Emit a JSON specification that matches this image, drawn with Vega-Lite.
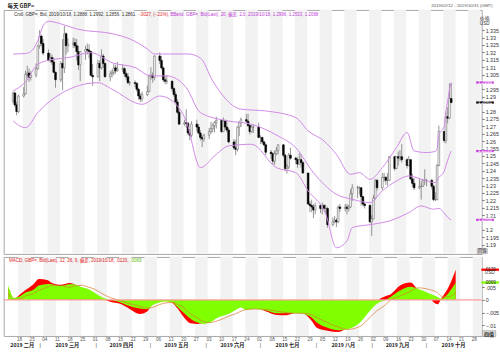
{
"$schema":"https://vega.github.io/schema/vega-lite/v6.json",
"autosize":{"type":"pad"},
"padding":{"left":1.7,"top":1.95,"right":2,"bottom":5},
"background":"white",
"spacing":0,
"config":{
 "view":{"stroke":"#a8a8a8","strokeWidth":1},
 "axis":{"labelFont":"Liberation Sans","labelFontSize":5.2,"labelColor":"#444","tickColor":"#777","domain":false,"grid":false,"labelFlush":false,"labelOverlap":false,"labelBound":false},
 "text":{"font":"Liberation Sans, Noto Sans CJK SC"}
},
"datasets":{
 "wk":[{"s":"2019-02-17T12:00:00Z","e":"2019-02-24T12:00:00Z"},{"s":"2019-03-03T12:00:00Z","e":"2019-03-10T12:00:00Z"},{"s":"2019-03-17T12:00:00Z","e":"2019-03-24T12:00:00Z"},{"s":"2019-03-31T12:00:00Z","e":"2019-04-07T12:00:00Z"},{"s":"2019-04-14T12:00:00Z","e":"2019-04-21T12:00:00Z"},{"s":"2019-04-28T12:00:00Z","e":"2019-05-05T12:00:00Z"},{"s":"2019-05-12T12:00:00Z","e":"2019-05-19T12:00:00Z"},{"s":"2019-05-26T12:00:00Z","e":"2019-06-02T12:00:00Z"},{"s":"2019-06-09T12:00:00Z","e":"2019-06-16T12:00:00Z"},{"s":"2019-06-23T12:00:00Z","e":"2019-06-30T12:00:00Z"},{"s":"2019-07-07T12:00:00Z","e":"2019-07-14T12:00:00Z"},{"s":"2019-07-21T12:00:00Z","e":"2019-07-28T12:00:00Z"},{"s":"2019-08-04T12:00:00Z","e":"2019-08-11T12:00:00Z"},{"s":"2019-08-18T12:00:00Z","e":"2019-08-25T12:00:00Z"},{"s":"2019-09-01T12:00:00Z","e":"2019-09-08T12:00:00Z"},{"s":"2019-09-15T12:00:00Z","e":"2019-09-22T12:00:00Z"},{"s":"2019-09-29T12:00:00Z","e":"2019-10-06T12:00:00Z"},{"s":"2019-10-13T12:00:00Z","e":"2019-10-20T12:00:00Z"},{"s":"2019-10-27T12:00:00Z","e":"2019-11-03T12:00:00Z"}],
 "c":[
{"d":"2019-02-12","o":1.2870,"h":1.2935,"l":1.2855,"c":1.2925},
{"d":"2019-02-13","o":1.2925,"h":1.2935,"l":1.2830,"c":1.2845},
{"d":"2019-02-14","o":1.2845,"h":1.2865,"l":1.2775,"c":1.2800},
{"d":"2019-02-15","o":1.2800,"h":1.2915,"l":1.2790,"c":1.2905},
{"d":"2019-02-18","o":1.2905,"h":1.2965,"l":1.2895,"c":1.2920},
{"d":"2019-02-19","o":1.2920,"h":1.3075,"l":1.2915,"c":1.3050},
{"d":"2019-02-20","o":1.3050,"h":1.3110,"l":1.3030,"c":1.3060},
{"d":"2019-02-21","o":1.3060,"h":1.3090,"l":1.3000,"c":1.3030},
{"d":"2019-02-22","o":1.3030,"h":1.3075,"l":1.3010,"c":1.3045},
{"d":"2019-02-25","o":1.3045,"h":1.3125,"l":1.3030,"c":1.3090},
{"d":"2019-02-26","o":1.3090,"h":1.3250,"l":1.3080,"c":1.3245},
{"d":"2019-02-27","o":1.3245,"h":1.3350,"l":1.3225,"c":1.3310},
{"d":"2019-02-28","o":1.3310,"h":1.3320,"l":1.3240,"c":1.3260},
{"d":"2019-03-01","o":1.3260,"h":1.3290,"l":1.3180,"c":1.3195},
{"d":"2019-03-04","o":1.3195,"h":1.3220,"l":1.3140,"c":1.3145},
{"d":"2019-03-05","o":1.3145,"h":1.3195,"l":1.3130,"c":1.3165},
{"d":"2019-03-06","o":1.3165,"h":1.3185,"l":1.3115,"c":1.3135},
{"d":"2019-03-07","o":1.3135,"h":1.3165,"l":1.3060,"c":1.3065},
{"d":"2019-03-08","o":1.3065,"h":1.3070,"l":1.2960,"c":1.3015},
{"d":"2019-03-11","o":1.3015,"h":1.3140,"l":1.3000,"c":1.3125},
{"d":"2019-03-12","o":1.3125,"h":1.3290,"l":1.2945,"c":1.3095},
{"d":"2019-03-13","o":1.3095,"h":1.3380,"l":1.3060,"c":1.3325},
{"d":"2019-03-14","o":1.3325,"h":1.3335,"l":1.3185,"c":1.3245},
{"d":"2019-03-15","o":1.3245,"h":1.3295,"l":1.3200,"c":1.3255},
{"d":"2019-03-18","o":1.3255,"h":1.3300,"l":1.3230,"c":1.3265},
{"d":"2019-03-19","o":1.3265,"h":1.3295,"l":1.3230,"c":1.3245},
{"d":"2019-03-20","o":1.3245,"h":1.3290,"l":1.3145,"c":1.3205},
{"d":"2019-03-21","o":1.3205,"h":1.3245,"l":1.3080,"c":1.3115},
{"d":"2019-03-22","o":1.3115,"h":1.3210,"l":1.3005,"c":1.3205},
{"d":"2019-03-25","o":1.3205,"h":1.3245,"l":1.3150,"c":1.3220},
{"d":"2019-03-26","o":1.3220,"h":1.3260,"l":1.3185,"c":1.3215},
{"d":"2019-03-27","o":1.3215,"h":1.3255,"l":1.3160,"c":1.3205},
{"d":"2019-03-28","o":1.3205,"h":1.3210,"l":1.3040,"c":1.3045},
{"d":"2019-03-29","o":1.3045,"h":1.3120,"l":1.2975,"c":1.3035},
{"d":"2019-04-01","o":1.3035,"h":1.3150,"l":1.3030,"c":1.3125},
{"d":"2019-04-02","o":1.3125,"h":1.3145,"l":1.3005,"c":1.3095},
{"d":"2019-04-03","o":1.3095,"h":1.3220,"l":1.3085,"c":1.3175},
{"d":"2019-04-04","o":1.3175,"h":1.3190,"l":1.3095,"c":1.3125},
{"d":"2019-04-05","o":1.3125,"h":1.3130,"l":1.3030,"c":1.3035},
{"d":"2019-04-08","o":1.3035,"h":1.3075,"l":1.3005,"c":1.3055},
{"d":"2019-04-09","o":1.3055,"h":1.3085,"l":1.3030,"c":1.3065},
{"d":"2019-04-10","o":1.3065,"h":1.3125,"l":1.3045,"c":1.3095},
{"d":"2019-04-11","o":1.3095,"h":1.3115,"l":1.3055,"c":1.3075},
{"d":"2019-04-12","o":1.3075,"h":1.3135,"l":1.3070,"c":1.3085},
{"d":"2019-04-15","o":1.3085,"h":1.3120,"l":1.3065,"c":1.3090},
{"d":"2019-04-16","o":1.3090,"h":1.3100,"l":1.3035,"c":1.3055},
{"d":"2019-04-17","o":1.3055,"h":1.3070,"l":1.3015,"c":1.3035},
{"d":"2019-04-18","o":1.3035,"h":1.3060,"l":1.2985,"c":1.2995},
{"d":"2019-04-19","o":1.2995,"h":1.3005,"l":1.2975,"c":1.2995},
{"d":"2019-04-22","o":1.2995,"h":1.3010,"l":1.2965,"c":1.2990},
{"d":"2019-04-23","o":1.2990,"h":1.3000,"l":1.2935,"c":1.2950},
{"d":"2019-04-24","o":1.2950,"h":1.2960,"l":1.2880,"c":1.2905},
{"d":"2019-04-25","o":1.2905,"h":1.2925,"l":1.2865,"c":1.2885},
{"d":"2019-04-26","o":1.2885,"h":1.2935,"l":1.2865,"c":1.2915},
{"d":"2019-04-29","o":1.2915,"h":1.2975,"l":1.2905,"c":1.2935},
{"d":"2019-04-30","o":1.2935,"h":1.3050,"l":1.2930,"c":1.3040},
{"d":"2019-05-01","o":1.3040,"h":1.3100,"l":1.3015,"c":1.3045},
{"d":"2019-05-02","o":1.3045,"h":1.3065,"l":1.2995,"c":1.3030},
{"d":"2019-05-03","o":1.3030,"h":1.3180,"l":1.3010,"c":1.3175},
{"d":"2019-05-06","o":1.3175,"h":1.3200,"l":1.3120,"c":1.3145},
{"d":"2019-05-07","o":1.3145,"h":1.3175,"l":1.3085,"c":1.3095},
{"d":"2019-05-08","o":1.3095,"h":1.3105,"l":1.3000,"c":1.3015},
{"d":"2019-05-09","o":1.3015,"h":1.3045,"l":1.2985,"c":1.3005},
{"d":"2019-05-10","o":1.3005,"h":1.3045,"l":1.2985,"c":1.3005},
{"d":"2019-05-13","o":1.3005,"h":1.3010,"l":1.2935,"c":1.2955},
{"d":"2019-05-14","o":1.2955,"h":1.2965,"l":1.2900,"c":1.2915},
{"d":"2019-05-15","o":1.2915,"h":1.2935,"l":1.2855,"c":1.2865},
{"d":"2019-05-16","o":1.2865,"h":1.2885,"l":1.2785,"c":1.2795},
{"d":"2019-05-17","o":1.2795,"h":1.2815,"l":1.2710,"c":1.2715},
{"d":"2019-05-20","o":1.2715,"h":1.2745,"l":1.2705,"c":1.2725},
{"d":"2019-05-21","o":1.2725,"h":1.2815,"l":1.2690,"c":1.2720},
{"d":"2019-05-22","o":1.2720,"h":1.2730,"l":1.2640,"c":1.2655},
{"d":"2019-05-23","o":1.2655,"h":1.2680,"l":1.2605,"c":1.2640},
{"d":"2019-05-24","o":1.2640,"h":1.2735,"l":1.2625,"c":1.2715},
{"d":"2019-05-27","o":1.2715,"h":1.2745,"l":1.2665,"c":1.2695},
{"d":"2019-05-28","o":1.2695,"h":1.2715,"l":1.2645,"c":1.2655},
{"d":"2019-05-29","o":1.2655,"h":1.2675,"l":1.2605,"c":1.2625},
{"d":"2019-05-30","o":1.2625,"h":1.2640,"l":1.2560,"c":1.2615},
{"d":"2019-05-31","o":1.2615,"h":1.2650,"l":1.2595,"c":1.2640},
{"d":"2019-06-03","o":1.2640,"h":1.2690,"l":1.2615,"c":1.2665},
{"d":"2019-06-04","o":1.2665,"h":1.2730,"l":1.2650,"c":1.2685},
{"d":"2019-06-05","o":1.2685,"h":1.2720,"l":1.2660,"c":1.2705},
{"d":"2019-06-06","o":1.2705,"h":1.2735,"l":1.2660,"c":1.2725},
{"d":"2019-06-07","o":1.2725,"h":1.2765,"l":1.2685,"c":1.2740},
{"d":"2019-06-10","o":1.2740,"h":1.2745,"l":1.2655,"c":1.2665},
{"d":"2019-06-11","o":1.2665,"h":1.2760,"l":1.2660,"c":1.2735},
{"d":"2019-06-12","o":1.2735,"h":1.2745,"l":1.2675,"c":1.2695},
{"d":"2019-06-13","o":1.2695,"h":1.2740,"l":1.2660,"c":1.2675},
{"d":"2019-06-14","o":1.2675,"h":1.2690,"l":1.2585,"c":1.2595},
{"d":"2019-06-17","o":1.2595,"h":1.2615,"l":1.2540,"c":1.2555},
{"d":"2019-06-18","o":1.2555,"h":1.2610,"l":1.2505,"c":1.2545},
{"d":"2019-06-19","o":1.2545,"h":1.2700,"l":1.2530,"c":1.2695},
{"d":"2019-06-20","o":1.2695,"h":1.2735,"l":1.2635,"c":1.2725},
{"d":"2019-06-21","o":1.2725,"h":1.2760,"l":1.2695,"c":1.2745},
{"d":"2019-06-24","o":1.2745,"h":1.2785,"l":1.2725,"c":1.2735},
{"d":"2019-06-25","o":1.2735,"h":1.2785,"l":1.2695,"c":1.2705},
{"d":"2019-06-26","o":1.2705,"h":1.2715,"l":1.2645,"c":1.2665},
{"d":"2019-06-27","o":1.2665,"h":1.2710,"l":1.2655,"c":1.2695},
{"d":"2019-06-28","o":1.2695,"h":1.2715,"l":1.2655,"c":1.2695},
{"d":"2019-07-01","o":1.2695,"h":1.2725,"l":1.2620,"c":1.2625},
{"d":"2019-07-02","o":1.2625,"h":1.2640,"l":1.2580,"c":1.2625},
{"d":"2019-07-03","o":1.2625,"h":1.2630,"l":1.2580,"c":1.2595},
{"d":"2019-07-04","o":1.2595,"h":1.2605,"l":1.2565,"c":1.2575},
{"d":"2019-07-05","o":1.2575,"h":1.2585,"l":1.2505,"c":1.2525},
{"d":"2019-07-08","o":1.2525,"h":1.2540,"l":1.2480,"c":1.2515},
{"d":"2019-07-09","o":1.2515,"h":1.2525,"l":1.2440,"c":1.2465},
{"d":"2019-07-10","o":1.2465,"h":1.2535,"l":1.2440,"c":1.2515},
{"d":"2019-07-11","o":1.2515,"h":1.2560,"l":1.2505,"c":1.2535},
{"d":"2019-07-12","o":1.2535,"h":1.2580,"l":1.2510,"c":1.2575},
{"d":"2019-07-15","o":1.2575,"h":1.2580,"l":1.2490,"c":1.2505},
{"d":"2019-07-16","o":1.2505,"h":1.2515,"l":1.2395,"c":1.2415},
{"d":"2019-07-17","o":1.2415,"h":1.2445,"l":1.2380,"c":1.2425},
{"d":"2019-07-18","o":1.2425,"h":1.2520,"l":1.2410,"c":1.2505},
{"d":"2019-07-19","o":1.2505,"h":1.2555,"l":1.2475,"c":1.2485},
{"d":"2019-07-22","o":1.2485,"h":1.2495,"l":1.2445,"c":1.2475},
{"d":"2019-07-23","o":1.2475,"h":1.2490,"l":1.2420,"c":1.2445},
{"d":"2019-07-24","o":1.2445,"h":1.2520,"l":1.2440,"c":1.2475},
{"d":"2019-07-25","o":1.2475,"h":1.2510,"l":1.2420,"c":1.2455},
{"d":"2019-07-26","o":1.2455,"h":1.2465,"l":1.2380,"c":1.2385},
{"d":"2019-07-29","o":1.2385,"h":1.2385,"l":1.2170,"c":1.2175},
{"d":"2019-07-30","o":1.2175,"h":1.2195,"l":1.2120,"c":1.2165},
{"d":"2019-07-31","o":1.2165,"h":1.2205,"l":1.2120,"c":1.2155},
{"d":"2019-08-01","o":1.2155,"h":1.2175,"l":1.2080,"c":1.2135},
{"d":"2019-08-02","o":1.2135,"h":1.2185,"l":1.2105,"c":1.2165},
{"d":"2019-08-05","o":1.2165,"h":1.2170,"l":1.2115,"c":1.2145},
{"d":"2019-08-06","o":1.2145,"h":1.2185,"l":1.2105,"c":1.2165},
{"d":"2019-08-07","o":1.2165,"h":1.2175,"l":1.2130,"c":1.2145},
{"d":"2019-08-08","o":1.2145,"h":1.2170,"l":1.2115,"c":1.2145},
{"d":"2019-08-09","o":1.2145,"h":1.2155,"l":1.2015,"c":1.2035},
{"d":"2019-08-12","o":1.2035,"h":1.2085,"l":1.2025,"c":1.2055},
{"d":"2019-08-13","o":1.2055,"h":1.2095,"l":1.2045,"c":1.2065},
{"d":"2019-08-14","o":1.2065,"h":1.2080,"l":1.2020,"c":1.2055},
{"d":"2019-08-15","o":1.2055,"h":1.2165,"l":1.2045,"c":1.2155},
{"d":"2019-08-16","o":1.2155,"h":1.2175,"l":1.2120,"c":1.2145},
{"d":"2019-08-19","o":1.2145,"h":1.2175,"l":1.2125,"c":1.2155},
{"d":"2019-08-20","o":1.2155,"h":1.2175,"l":1.2105,"c":1.2145},
{"d":"2019-08-21","o":1.2145,"h":1.2170,"l":1.2125,"c":1.2155},
{"d":"2019-08-22","o":1.2155,"h":1.2275,"l":1.2150,"c":1.2245},
{"d":"2019-08-23","o":1.2245,"h":1.2310,"l":1.2195,"c":1.2285},
{"d":"2019-08-26","o":1.2285,"h":1.2300,"l":1.2215,"c":1.2285},
{"d":"2019-08-27","o":1.2285,"h":1.2295,"l":1.2240,"c":1.2285},
{"d":"2019-08-28","o":1.2285,"h":1.2290,"l":1.2165,"c":1.2225},
{"d":"2019-08-29","o":1.2225,"h":1.2230,"l":1.2160,"c":1.2175},
{"d":"2019-08-30","o":1.2175,"h":1.2185,"l":1.2145,"c":1.2165},
{"d":"2019-09-02","o":1.2165,"h":1.2175,"l":1.2045,"c":1.2055},
{"d":"2019-09-03","o":1.2055,"h":1.2100,"l":1.1960,"c":1.2075},
{"d":"2019-09-04","o":1.2075,"h":1.2235,"l":1.2070,"c":1.2215},
{"d":"2019-09-05","o":1.2215,"h":1.2345,"l":1.2205,"c":1.2335},
{"d":"2019-09-06","o":1.2335,"h":1.2345,"l":1.2265,"c":1.2285},
{"d":"2019-09-09","o":1.2285,"h":1.2385,"l":1.2270,"c":1.2355},
{"d":"2019-09-10","o":1.2355,"h":1.2385,"l":1.2325,"c":1.2355},
{"d":"2019-09-11","o":1.2355,"h":1.2365,"l":1.2305,"c":1.2335},
{"d":"2019-09-12","o":1.2335,"h":1.2385,"l":1.2300,"c":1.2335},
{"d":"2019-09-13","o":1.2335,"h":1.2500,"l":1.2330,"c":1.2495},
{"d":"2019-09-16","o":1.2495,"h":1.2500,"l":1.2400,"c":1.2415},
{"d":"2019-09-17","o":1.2415,"h":1.2495,"l":1.2410,"c":1.2495},
{"d":"2019-09-18","o":1.2495,"h":1.2530,"l":1.2435,"c":1.2485},
{"d":"2019-09-19","o":1.2485,"h":1.2540,"l":1.2465,"c":1.2495},
{"d":"2019-09-20","o":1.2495,"h":1.2580,"l":1.2455,"c":1.2475},
{"d":"2019-09-23","o":1.2475,"h":1.2485,"l":1.2415,"c":1.2435},
{"d":"2019-09-24","o":1.2435,"h":1.2500,"l":1.2430,"c":1.2475},
{"d":"2019-09-25","o":1.2475,"h":1.2475,"l":1.2335,"c":1.2345},
{"d":"2019-09-26","o":1.2345,"h":1.2380,"l":1.2290,"c":1.2315},
{"d":"2019-09-27","o":1.2315,"h":1.2350,"l":1.2270,"c":1.2285},
{"d":"2019-09-30","o":1.2285,"h":1.2345,"l":1.2275,"c":1.2295},
{"d":"2019-10-01","o":1.2295,"h":1.2330,"l":1.2205,"c":1.2295},
{"d":"2019-10-02","o":1.2295,"h":1.2345,"l":1.2290,"c":1.2335},
{"d":"2019-10-03","o":1.2335,"h":1.2410,"l":1.2305,"c":1.2335},
{"d":"2019-10-04","o":1.2335,"h":1.2345,"l":1.2295,"c":1.2335},
{"d":"2019-10-07","o":1.2335,"h":1.2345,"l":1.2275,"c":1.2295},
{"d":"2019-10-08","o":1.2295,"h":1.2305,"l":1.2195,"c":1.2205},
{"d":"2019-10-09","o":1.2205,"h":1.2255,"l":1.2195,"c":1.2205},
{"d":"2019-10-10","o":1.2205,"h":1.2445,"l":1.2200,"c":1.2435},
{"d":"2019-10-11","o":1.2435,"h":1.2705,"l":1.2430,"c":1.2665},
{"d":"2019-10-14","o":1.2665,"h":1.2670,"l":1.2590,"c":1.2605},
{"d":"2019-10-15","o":1.2605,"h":1.2800,"l":1.2585,"c":1.2765},
{"d":"2019-10-16","o":1.2765,"h":1.2830,"l":1.2720,"c":1.2755},
{"d":"2019-10-17","o":1.2755,"h":1.2990,"l":1.2750,"c":1.2888},
{"d":"2019-10-18","o":1.2888,"h":1.2992,"l":1.2856,"c":1.2861}
 ],
 "bu":[{"d":"2019-02-12","v":1.3189},{"d":"2019-02-19","v":1.3192},{"d":"2019-02-22","v":1.3205},{"d":"2019-02-26","v":1.3280},{"d":"2019-03-01","v":1.3380},{"d":"2019-03-04","v":1.3410},{"d":"2019-03-13","v":1.3385},{"d":"2019-03-20","v":1.3358},{"d":"2019-04-10","v":1.3324},{"d":"2019-04-19","v":1.3291},{"d":"2019-04-29","v":1.3223},{"d":"2019-05-03","v":1.3189},{"d":"2019-05-22","v":1.3189},{"d":"2019-05-29","v":1.3162},{"d":"2019-06-05","v":1.3007},{"d":"2019-06-21","v":1.2816},{"d":"2019-07-05","v":1.2804},{"d":"2019-07-22","v":1.2759},{"d":"2019-07-29","v":1.2669},{"d":"2019-08-07","v":1.2601},{"d":"2019-08-14","v":1.2511},{"d":"2019-08-22","v":1.2376},{"d":"2019-08-27","v":1.2387},{"d":"2019-09-02","v":1.2342},{"d":"2019-09-09","v":1.2421},{"d":"2019-09-17","v":1.2556},{"d":"2019-09-23","v":1.2658},{"d":"2019-09-27","v":1.2534},{"d":"2019-10-04","v":1.2523},{"d":"2019-10-09","v":1.2530},{"d":"2019-10-10","v":1.2550},{"d":"2019-10-11","v":1.2640},{"d":"2019-10-14","v":1.2700},{"d":"2019-10-15","v":1.2800},{"d":"2019-10-16","v":1.2870},{"d":"2019-10-17","v":1.2950},{"d":"2019-10-18","v":1.2996}],
 "bm":[{"d":"2019-02-12","v":1.2939},{"d":"2019-02-19","v":1.3000},{"d":"2019-02-26","v":1.3120},{"d":"2019-03-07","v":1.3153},{"d":"2019-03-15","v":1.3164},{"d":"2019-03-28","v":1.3198},{"d":"2019-04-09","v":1.3130},{"d":"2019-04-22","v":1.3097},{"d":"2019-05-01","v":1.3041},{"d":"2019-05-10","v":1.3041},{"d":"2019-05-21","v":1.2962},{"d":"2019-05-29","v":1.2793},{"d":"2019-06-14","v":1.2736},{"d":"2019-06-27","v":1.2714},{"d":"2019-07-12","v":1.2635},{"d":"2019-07-22","v":1.2556},{"d":"2019-08-01","v":1.2387},{"d":"2019-08-14","v":1.2241},{"d":"2019-08-23","v":1.2207},{"d":"2019-09-02","v":1.2185},{"d":"2019-09-09","v":1.2264},{"d":"2019-09-17","v":1.2331},{"d":"2019-09-24","v":1.2365},{"d":"2019-10-04","v":1.2331},{"d":"2019-10-09","v":1.2320},{"d":"2019-10-11","v":1.2355},{"d":"2019-10-14","v":1.2395},{"d":"2019-10-15","v":1.2435},{"d":"2019-10-16","v":1.2470},{"d":"2019-10-17","v":1.2505},{"d":"2019-10-18","v":1.2533}],
 "bl":[{"d":"2019-02-12","v":1.2736},{"d":"2019-02-19","v":1.2691},{"d":"2019-02-26","v":1.2793},{"d":"2019-03-18","v":1.2962},{"d":"2019-04-01","v":1.2995},{"d":"2019-04-09","v":1.2951},{"d":"2019-04-26","v":1.2849},{"d":"2019-05-06","v":1.2905},{"d":"2019-05-13","v":1.2872},{"d":"2019-05-21","v":1.2736},{"d":"2019-05-29","v":1.2421},{"d":"2019-06-07","v":1.2511},{"d":"2019-06-14","v":1.2568},{"d":"2019-06-27","v":1.2579},{"d":"2019-07-11","v":1.2421},{"d":"2019-07-22","v":1.2387},{"d":"2019-07-29","v":1.2264},{"d":"2019-08-08","v":1.2106},{"d":"2019-08-14","v":1.1880},{"d":"2019-08-20","v":1.1926},{"d":"2019-08-23","v":1.2016},{"d":"2019-09-04","v":1.2039},{"d":"2019-09-13","v":1.2061},{"d":"2019-09-24","v":1.2117},{"d":"2019-10-01","v":1.2162},{"d":"2019-10-08","v":1.2140},{"d":"2019-10-11","v":1.2145},{"d":"2019-10-14","v":1.2115},{"d":"2019-10-16","v":1.2085},{"d":"2019-10-18","v":1.2068}],
 "m":[
{"d":"2019-02-12","macd":0.0050,"sig":0.0057,"orn":0.0027},
{"d":"2019-02-13","macd":0.0030,"sig":0.0037,"orn":0.0015},
{"d":"2019-02-15","macd":0.0005,"sig":0.0009,"orn":0.0002},
{"d":"2019-02-19","macd":0.0025,"sig":0.0017,"orn":0.0006},
{"d":"2019-02-21","macd":0.0036,"sig":0.0027,"orn":0.0014},
{"d":"2019-02-26","macd":0.0062,"sig":0.0040,"orn":0.0025},
{"d":"2019-03-01","macd":0.0083,"sig":0.0057,"orn":0.0038},
{"d":"2019-03-06","macd":0.0078,"sig":0.0063,"orn":0.0052},
{"d":"2019-03-08","macd":0.0068,"sig":0.0062,"orn":0.0058},
{"d":"2019-03-13","macd":0.0060,"sig":0.0055,"orn":0.0058},
{"d":"2019-03-18","macd":0.0067,"sig":0.0062,"orn":0.0050},
{"d":"2019-03-20","macd":0.0064,"sig":0.0062,"orn":0.0055},
{"d":"2019-03-25","macd":0.0040,"sig":0.0050,"orn":0.0058},
{"d":"2019-03-28","macd":0.0030,"sig":0.0044,"orn":0.0052},
{"d":"2019-04-01","macd":0.0018,"sig":0.0028,"orn":0.0042},
{"d":"2019-04-05","macd":0.0005,"sig":0.0011,"orn":0.0025},
{"d":"2019-04-10","macd":-0.0008,"sig":0.0000,"orn":0.0008},
{"d":"2019-04-15","macd":-0.0015,"sig":-0.0009,"orn":-0.0002},
{"d":"2019-04-19","macd":-0.0030,"sig":-0.0021,"orn":-0.0012},
{"d":"2019-04-26","macd":-0.0056,"sig":-0.0034,"orn":-0.0025},
{"d":"2019-04-30","macd":-0.0046,"sig":-0.0037,"orn":-0.0033},
{"d":"2019-05-03","macd":-0.0015,"sig":-0.0021,"orn":-0.0030},
{"d":"2019-05-07","macd":-0.0005,"sig":-0.0010,"orn":-0.0018},
{"d":"2019-05-10","macd":-0.0003,"sig":-0.0006,"orn":-0.0012},
{"d":"2019-05-14","macd":-0.0012,"sig":-0.0010,"orn":-0.0010},
{"d":"2019-05-17","macd":-0.0035,"sig":-0.0029,"orn":-0.0018},
{"d":"2019-05-21","macd":-0.0075,"sig":-0.0056,"orn":-0.0035},
{"d":"2019-05-24","macd":-0.0093,"sig":-0.0075,"orn":-0.0055},
{"d":"2019-05-28","macd":-0.0095,"sig":-0.0090,"orn":-0.0072},
{"d":"2019-05-31","macd":-0.0092,"sig":-0.0095,"orn":-0.0085},
{"d":"2019-06-04","macd":-0.0080,"sig":-0.0090,"orn":-0.0090},
{"d":"2019-06-07","macd":-0.0065,"sig":-0.0075,"orn":-0.0085},
{"d":"2019-06-11","macd":-0.0050,"sig":-0.0063,"orn":-0.0075},
{"d":"2019-06-14","macd":-0.0050,"sig":-0.0056,"orn":-0.0065},
{"d":"2019-06-18","macd":-0.0038,"sig":-0.0040,"orn":-0.0055},
{"d":"2019-06-21","macd":-0.0022,"sig":-0.0030,"orn":-0.0045},
{"d":"2019-06-24","macd":-0.0030,"sig":-0.0040,"orn":-0.0038},
{"d":"2019-06-28","macd":-0.0030,"sig":-0.0036,"orn":-0.0036},
{"d":"2019-07-05","macd":-0.0046,"sig":-0.0042,"orn":-0.0038},
{"d":"2019-07-11","macd":-0.0060,"sig":-0.0053,"orn":-0.0045},
{"d":"2019-07-16","macd":-0.0061,"sig":-0.0053,"orn":-0.0050},
{"d":"2019-07-22","macd":-0.0050,"sig":-0.0053,"orn":-0.0053},
{"d":"2019-07-26","macd":-0.0055,"sig":-0.0056,"orn":-0.0053},
{"d":"2019-07-30","macd":-0.0082,"sig":-0.0069,"orn":-0.0058},
{"d":"2019-08-02","macd":-0.0110,"sig":-0.0090,"orn":-0.0070},
{"d":"2019-08-08","macd":-0.0122,"sig":-0.0110,"orn":-0.0090},
{"d":"2019-08-14","macd":-0.0127,"sig":-0.0120,"orn":-0.0108},
{"d":"2019-08-19","macd":-0.0110,"sig":-0.0116,"orn":-0.0117},
{"d":"2019-08-26","macd":-0.0070,"sig":-0.0090,"orn":-0.0105},
{"d":"2019-08-30","macd":-0.0045,"sig":-0.0056,"orn":-0.0080},
{"d":"2019-09-04","macd":-0.0005,"sig":-0.0017,"orn":-0.0045},
{"d":"2019-09-09","macd":0.0015,"sig":0.0000,"orn":-0.0020},
{"d":"2019-09-12","macd":0.0023,"sig":0.0012,"orn":0.0000},
{"d":"2019-09-17","macd":0.0056,"sig":0.0036,"orn":0.0015},
{"d":"2019-09-23","macd":0.0069,"sig":0.0052,"orn":0.0035},
{"d":"2019-09-27","macd":0.0040,"sig":0.0044,"orn":0.0048},
{"d":"2019-10-03","macd":0.0010,"sig":0.0027,"orn":0.0042},
{"d":"2019-10-08","macd":-0.0017,"sig":0.0012,"orn":0.0028},
{"d":"2019-10-10","macd":0.0005,"sig":0.0005,"orn":0.0015},
{"d":"2019-10-14","macd":0.0050,"sig":0.0027,"orn":0.0012},
{"d":"2019-10-18","macd":0.0120,"sig":0.0069,"orn":0.0030}
 ],
 "pb":[{"v":1.2996,"t":"1.2996","k":"m"},{"v":1.2861,"t":"1.2861","k":"k"},{"v":1.2533,"t":"1.2533","k":"m"},{"v":1.2068,"t":"1.2068","k":"m"}],
 "mb":[{"v":0.012,"t":".0120","k":"r"},{"v":0.0069,"t":".0069","k":"g"}]
},
"vconcat":[
{
 "width":478,"height":244,
 "layer":[
  {"data":{"name":"wk"},"mark":{"type":"rect","clip":true,"fill":"#f2f2f2"},
   "encoding":{"x":{"field":"s","type":"temporal","scale":{"type":"utc","domain":[1549713600000,1572602400000]},"axis":null},"x2":{"field":"e"}}},
  {"data":{"name":"c"},"mark":{"type":"rule","color":"#7a7a7a","strokeWidth":0.8},
   "encoding":{"x":{"field":"d","type":"temporal","scale":{"type":"utc","domain":[1549713600000,1572602400000]},"axis":null},
    "y":{"field":"l","type":"quantitative","scale":{"domain":[1.18378,1.34865],"nice":false,"zero":false},
      "axis":{"orient":"right","values":[1.19,1.195,1.2,1.21,1.215,1.22,1.225,1.23,1.235,1.24,1.245,1.25,1.255,1.26,1.265,1.27,1.275,1.28,1.29,1.295,1.305,1.31,1.315,1.32,1.325,1.33,1.335],"format":".3~f","tickSize":2.5,"labelPadding":1,"labelOverlap":false,"labelFontSize":5.3,"labelColor":"#333333","title":null}},
    "y2":{"field":"h"}}},
  {"data":{"name":"c"},"mark":{"type":"bar","width":1.7,"strokeWidth":0.6},
   "encoding":{"x":{"field":"d","type":"temporal","scale":{"type":"utc","domain":[1549713600000,1572602400000]},"axis":null},
    "y":{"field":"o","type":"quantitative","scale":{"domain":[1.18378,1.34865],"nice":false,"zero":false},
      "axis":{"orient":"right","values":[1.19,1.195,1.2,1.21,1.215,1.22,1.225,1.23,1.235,1.24,1.245,1.25,1.255,1.26,1.265,1.27,1.275,1.28,1.29,1.295,1.305,1.31,1.315,1.32,1.325,1.33,1.335],"format":".3~f","tickSize":2.5,"labelPadding":1,"labelOverlap":false,"labelFontSize":5.3,"labelColor":"#333333","title":null}},"y2":{"field":"c"},
    "fill":{"condition":{"test":"datum.c >= datum.o","value":"#ffffff"},"value":"#000000"},
    "stroke":{"condition":{"test":"datum.c >= datum.o","value":"#707070"},"value":"#000000"}}},
  {"data":{"name":"bu"},"mark":{"type":"line","interpolate":"monotone","color":"#d08ae8","strokeWidth":1},
   "encoding":{"x":{"field":"d","type":"temporal","scale":{"type":"utc","domain":[1549713600000,1572602400000]},"axis":null},"y":{"field":"v","type":"quantitative","scale":{"domain":[1.18378,1.34865],"nice":false,"zero":false},
      "axis":{"orient":"right","values":[1.19,1.195,1.2,1.21,1.215,1.22,1.225,1.23,1.235,1.24,1.245,1.25,1.255,1.26,1.265,1.27,1.275,1.28,1.29,1.295,1.305,1.31,1.315,1.32,1.325,1.33,1.335],"format":".3~f","tickSize":2.5,"labelPadding":1,"labelOverlap":false,"labelFontSize":5.3,"labelColor":"#333333","title":null}}}},
  {"data":{"name":"bm"},"mark":{"type":"line","interpolate":"monotone","color":"#d08ae8","strokeWidth":1},
   "encoding":{"x":{"field":"d","type":"temporal","scale":{"type":"utc","domain":[1549713600000,1572602400000]},"axis":null},"y":{"field":"v","type":"quantitative","scale":{"domain":[1.18378,1.34865],"nice":false,"zero":false},
      "axis":{"orient":"right","values":[1.19,1.195,1.2,1.21,1.215,1.22,1.225,1.23,1.235,1.24,1.245,1.25,1.255,1.26,1.265,1.27,1.275,1.28,1.29,1.295,1.305,1.31,1.315,1.32,1.325,1.33,1.335],"format":".3~f","tickSize":2.5,"labelPadding":1,"labelOverlap":false,"labelFontSize":5.3,"labelColor":"#333333","title":null}}}},
  {"data":{"name":"bl"},"mark":{"type":"line","interpolate":"monotone","color":"#d08ae8","strokeWidth":1},
   "encoding":{"x":{"field":"d","type":"temporal","scale":{"type":"utc","domain":[1549713600000,1572602400000]},"axis":null},"y":{"field":"v","type":"quantitative","scale":{"domain":[1.18378,1.34865],"nice":false,"zero":false},
      "axis":{"orient":"right","values":[1.19,1.195,1.2,1.21,1.215,1.22,1.225,1.23,1.235,1.24,1.245,1.25,1.255,1.26,1.265,1.27,1.275,1.28,1.29,1.295,1.305,1.31,1.315,1.32,1.325,1.33,1.335],"format":".3~f","tickSize":2.5,"labelPadding":1,"labelOverlap":false,"labelFontSize":5.3,"labelColor":"#333333","title":null}}}},
  {"data":{"values":[{}]},"mark":{"type":"text","align":"left","baseline":"middle","fontSize":5.5,"fontWeight":"bold","color":"#222222","font":"Noto Sans CJK SC","dx":-1.3,"dy":-4.3},
   "encoding":{"x":{"datum":1549713600000,"type":"temporal","scale":{"type":"utc","domain":[1549713600000,1572602400000]},"axis":null},"y":{"datum":1.34865,"type":"quantitative","scale":{"domain":[1.18378,1.34865],"nice":false,"zero":false},
      "axis":{"orient":"right","values":[1.19,1.195,1.2,1.21,1.215,1.22,1.225,1.23,1.235,1.24,1.245,1.25,1.255,1.26,1.265,1.27,1.275,1.28,1.29,1.295,1.305,1.31,1.315,1.32,1.325,1.33,1.335],"format":".3~f","tickSize":2.5,"labelPadding":1,"labelOverlap":false,"labelFontSize":5.3,"labelColor":"#333333","title":null}},"text":{"value":"每天 GBP="}}},
  {"data":{"values":[{}]},"mark":{"type":"text","align":"left","baseline":"middle","fontSize":4.45,"color":"#333333","dx":5.3},
   "encoding":{"x":{"datum":1549713600000,"type":"temporal","scale":{"type":"utc","domain":[1549713600000,1572602400000]},"axis":null},"y":{"datum":1.3453,"type":"quantitative","scale":{"domain":[1.18378,1.34865],"nice":false,"zero":false},
      "axis":{"orient":"right","values":[1.19,1.195,1.2,1.21,1.215,1.22,1.225,1.23,1.235,1.24,1.245,1.25,1.255,1.26,1.265,1.27,1.275,1.28,1.29,1.295,1.305,1.31,1.315,1.32,1.325,1.33,1.335],"format":".3~f","tickSize":2.5,"labelPadding":1,"labelOverlap":false,"labelFontSize":5.3,"labelColor":"#333333","title":null}},"text":{"value":"Cndl, GBP=, Bid, 2019/10/18, 1.2888, 1.2992, 1.2856, 1.2861, "}}},
  {"data":{"values":[{}]},"mark":{"type":"text","align":"left","baseline":"middle","fontSize":4.45,"color":"#e02020","dx":129.6},
   "encoding":{"x":{"datum":1549713600000,"type":"temporal","scale":{"type":"utc","domain":[1549713600000,1572602400000]},"axis":null},"y":{"datum":1.3453,"type":"quantitative","scale":{"domain":[1.18378,1.34865],"nice":false,"zero":false},
      "axis":{"orient":"right","values":[1.19,1.195,1.2,1.21,1.215,1.22,1.225,1.23,1.235,1.24,1.245,1.25,1.255,1.26,1.265,1.27,1.275,1.28,1.29,1.295,1.305,1.31,1.315,1.32,1.325,1.33,1.335],"format":".3~f","tickSize":2.5,"labelPadding":1,"labelOverlap":false,"labelFontSize":5.3,"labelColor":"#333333","title":null}},"text":{"value":"-.0027, (-.21%), "}}},
  {"data":{"values":[{}]},"mark":{"type":"text","align":"left","baseline":"middle","fontSize":4.45,"color":"#c040d8","dx":161.5},
   "encoding":{"x":{"datum":1549713600000,"type":"temporal","scale":{"type":"utc","domain":[1549713600000,1572602400000]},"axis":null},"y":{"datum":1.3453,"type":"quantitative","scale":{"domain":[1.18378,1.34865],"nice":false,"zero":false},
      "axis":{"orient":"right","values":[1.19,1.195,1.2,1.21,1.215,1.22,1.225,1.23,1.235,1.24,1.245,1.25,1.255,1.26,1.265,1.27,1.275,1.28,1.29,1.295,1.305,1.31,1.315,1.32,1.325,1.33,1.335],"format":".3~f","tickSize":2.5,"labelPadding":1,"labelOverlap":false,"labelFontSize":5.3,"labelColor":"#333333","title":null}},"text":{"value":"BBand, GBP=, Bid(Last), 20, 偏差, 2.0, 2019/10/18, 1.2996, 1.2533, 1.2068"}}},
  {"data":{"values":[{}]},"mark":{"type":"text","align":"right","baseline":"middle","fontSize":4.4,"color":"#555555","dx":16,"dy":-4.3},
   "encoding":{"x":{"datum":1572602400000,"type":"temporal","scale":{"type":"utc","domain":[1549713600000,1572602400000]},"axis":null},"y":{"datum":1.34865,"type":"quantitative","scale":{"domain":[1.18378,1.34865],"nice":false,"zero":false},
      "axis":{"orient":"right","values":[1.19,1.195,1.2,1.21,1.215,1.22,1.225,1.23,1.235,1.24,1.245,1.25,1.255,1.26,1.265,1.27,1.275,1.28,1.29,1.295,1.305,1.31,1.315,1.32,1.325,1.33,1.335],"format":".3~f","tickSize":2.5,"labelPadding":1,"labelOverlap":false,"labelFontSize":5.3,"labelColor":"#333333","title":null}},"text":{"value":"2019/02/12 - 2019/10/31 (GMT)"}}},
  {"data":{"values":[{}]},"mark":{"type":"text","align":"center","baseline":"middle","fontSize":5,"color":"#333333","dx":8},
   "encoding":{"x":{"datum":1572602400000,"type":"temporal","scale":{"type":"utc","domain":[1549713600000,1572602400000]},"axis":null},"y":{"datum":1.3432,"type":"quantitative","scale":{"domain":[1.18378,1.34865],"nice":false,"zero":false},
      "axis":{"orient":"right","values":[1.19,1.195,1.2,1.21,1.215,1.22,1.225,1.23,1.235,1.24,1.245,1.25,1.255,1.26,1.265,1.27,1.275,1.28,1.29,1.295,1.305,1.31,1.315,1.32,1.325,1.33,1.335],"format":".3~f","tickSize":2.5,"labelPadding":1,"labelOverlap":false,"labelFontSize":5.3,"labelColor":"#333333","title":null}},"text":{"value":"价格"}}},
  {"data":{"values":[{}]},"mark":{"type":"text","align":"center","baseline":"middle","fontSize":4.6,"color":"#333333","dx":8},
   "encoding":{"x":{"datum":1572602400000,"type":"temporal","scale":{"type":"utc","domain":[1549713600000,1572602400000]},"axis":null},"y":{"datum":1.3392,"type":"quantitative","scale":{"domain":[1.18378,1.34865],"nice":false,"zero":false},
      "axis":{"orient":"right","values":[1.19,1.195,1.2,1.21,1.215,1.22,1.225,1.23,1.235,1.24,1.245,1.25,1.255,1.26,1.265,1.27,1.275,1.28,1.29,1.295,1.305,1.31,1.315,1.32,1.325,1.33,1.335],"format":".3~f","tickSize":2.5,"labelPadding":1,"labelOverlap":false,"labelFontSize":5.3,"labelColor":"#333333","title":null}},"text":{"value":"USD"}}},
  {"data":{"name":"pb"},"mark":{"type":"point","shape":"M-1,-0.128H1V0.128H-1Z","size":310,"filled":true,"opacity":1,"strokeWidth":0},
   "encoding":{"x":{"datum":1573009200000,"type":"temporal","scale":{"type":"utc","domain":[1549713600000,1572602400000]},"axis":null},"y":{"field":"v","type":"quantitative","scale":{"domain":[1.18378,1.34865],"nice":false,"zero":false},
      "axis":{"orient":"right","values":[1.19,1.195,1.2,1.21,1.215,1.22,1.225,1.23,1.235,1.24,1.245,1.25,1.255,1.26,1.265,1.27,1.275,1.28,1.29,1.295,1.305,1.31,1.315,1.32,1.325,1.33,1.335],"format":".3~f","tickSize":2.5,"labelPadding":1,"labelOverlap":false,"labelFontSize":5.3,"labelColor":"#333333","title":null}},
    "color":{"condition":{"test":"datum.k == 'k'","value":"#111111"},"value":"#c83cdc"}}},
  {"data":{"name":"pb"},"mark":{"type":"text","align":"center","baseline":"middle","fontSize":4.6,"color":"#ffffff"},
   "encoding":{"x":{"datum":1573009200000,"type":"temporal","scale":{"type":"utc","domain":[1549713600000,1572602400000]},"axis":null},"y":{"field":"v","type":"quantitative","scale":{"domain":[1.18378,1.34865],"nice":false,"zero":false},
      "axis":{"orient":"right","values":[1.19,1.195,1.2,1.21,1.215,1.22,1.225,1.23,1.235,1.24,1.245,1.25,1.255,1.26,1.265,1.27,1.275,1.28,1.29,1.295,1.305,1.31,1.315,1.32,1.325,1.33,1.335],"format":".3~f","tickSize":2.5,"labelPadding":1,"labelOverlap":false,"labelFontSize":5.3,"labelColor":"#333333","title":null}},"text":{"field":"t"}}},
  {"data":{"values":[{}]},"mark":{"type":"point","shape":"M-1,-0.5H1V0.5H-1Z","size":100,"filled":true,"opacity":1,"color":"#dddddd","stroke":"#888888","strokeWidth":0.5},
   "encoding":{"x":{"datum":1572876000000,"type":"temporal","scale":{"type":"utc","domain":[1549713600000,1572602400000]},"axis":null},"y":{"datum":1.1856,"type":"quantitative","scale":{"domain":[1.18378,1.34865],"nice":false,"zero":false},
      "axis":{"orient":"right","values":[1.19,1.195,1.2,1.21,1.215,1.22,1.225,1.23,1.235,1.24,1.245,1.25,1.255,1.26,1.265,1.27,1.275,1.28,1.29,1.295,1.305,1.31,1.315,1.32,1.325,1.33,1.335],"format":".3~f","tickSize":2.5,"labelPadding":1,"labelOverlap":false,"labelFontSize":5.3,"labelColor":"#333333","title":null}}}},
  {"data":{"values":[{}]},"mark":{"type":"text","align":"center","baseline":"middle","fontSize":4.2,"color":"#222222","font":"Noto Sans CJK SC"},
   "encoding":{"x":{"datum":1572876000000,"type":"temporal","scale":{"type":"utc","domain":[1549713600000,1572602400000]},"axis":null},"y":{"datum":1.1856,"type":"quantitative","scale":{"domain":[1.18378,1.34865],"nice":false,"zero":false},
      "axis":{"orient":"right","values":[1.19,1.195,1.2,1.21,1.215,1.22,1.225,1.23,1.235,1.24,1.245,1.25,1.255,1.26,1.265,1.27,1.275,1.28,1.29,1.295,1.305,1.31,1.315,1.32,1.325,1.33,1.335],"format":".3~f","tickSize":2.5,"labelPadding":1,"labelOverlap":false,"labelFontSize":5.3,"labelColor":"#333333","title":null}},"text":{"value":"四值"}}}
 ]
},
{
 "width":478,"height":79,
 "resolve":{"axis":{"x":"independent"}},
 "layer":[
  {"data":{"name":"wk"},"mark":{"type":"rect","clip":true,"fill":"#f2f2f2"},
   "encoding":{"x":{"field":"s","type":"temporal","scale":{"type":"utc","domain":[1549713600000,1572602400000]},
     "axis":{"orient":"bottom","values":[1550448000000,1551052800000,1551657600000,1552262400000,1552867200000,1553472000000,1554076800000,1554681600000,1555286400000,1555891200000,1556496000000,1557100800000,1557705600000,1558310400000,1558915200000,1559520000000,1560124800000,1560729600000,1561334400000,1561939200000,1562544000000,1563148800000,1563753600000,1564358400000,1564963200000,1565568000000,1566172800000,1566777600000,1567382400000,1567987200000,1568592000000,1569196800000,1569801600000,1570406400000,1571011200000,1571616000000,1572220800000],"format":"%d","ticks":false,"labelPadding":0.5,"labelFontSize":4.6,"labelColor":"#555555","labelOverlap":false,"title":null}},
    "x2":{"field":"e"}}},
  {"data":{"name":"m"},"mark":{"type":"area","interpolate":"monotone","color":"#ff0000"},
   "encoding":{"x":{"field":"d","type":"temporal","scale":{"type":"utc","domain":[1549713600000,1572602400000]},
     "axis":{"orient":"bottom","values":[1550577600000,1552737600000,1555329600000,1557964800000,1560643200000,1563278400000,1565956800000,1568548800000,1571227200000],"labelExpr":"'2019 ' + ['一月','二月','三月','四月','五月','六月','七月','八月','九月','十月','十一月','十二月'][utcmonth(datum.value)]","ticks":false,"offset":5.5,"labelPadding":1,"labelFont":"Noto Sans CJK SC","labelFontSize":5.2,"labelFontWeight":"bold","labelColor":"#222222","labelOverlap":false,"title":null}},
    "y":{"field":"macd","type":"quantitative","scale":{"domain":[-0.014286,0.017063],"nice":false,"zero":false},
     "axis":{"orient":"right","values":[-0.01,-0.005,0,0.005],"labelExpr":"replace(format(datum.value,'.3~f'),'0.','.')","tickSize":2.5,"labelPadding":1,"labelOverlap":false,"labelFontSize":5.3,"labelColor":"#333333","title":null}},
    "y2":{"datum":0}}},
  {"data":{"name":"m"},"mark":{"type":"area","interpolate":"monotone","color":"#80ff00"},
   "encoding":{"x":{"field":"d","type":"temporal","scale":{"type":"utc","domain":[1549713600000,1572602400000]},
     "axis":{"orient":"bottom","values":[1551441600000,1554120000000,1556712000000,1559390400000,1561982400000,1564660800000,1567339200000,1569931200000],"labelExpr":"'|'","ticks":false,"offset":5.5,"labelPadding":1,"labelFontSize":5.2,"labelColor":"#444444","labelOverlap":false,"title":null}},
    "y":{"field":"sig","type":"quantitative","scale":{"domain":[-0.014286,0.017063],"nice":false,"zero":false},
     "axis":{"orient":"right","values":[-0.01,-0.005,0,0.005],"labelExpr":"replace(format(datum.value,'.3~f'),'0.','.')","tickSize":2.5,"labelPadding":1,"labelOverlap":false,"labelFontSize":5.3,"labelColor":"#333333","title":null}},"y2":{"datum":0}}},
  {"data":{"name":"m"},"mark":{"type":"line","interpolate":"monotone","color":"#d9772b","strokeWidth":0.7},
   "encoding":{"x":{"field":"d","type":"temporal","scale":{"type":"utc","domain":[1549713600000,1572602400000]},"axis":null},"y":{"field":"orn","type":"quantitative","scale":{"domain":[-0.014286,0.017063],"nice":false,"zero":false},
     "axis":{"orient":"right","values":[-0.01,-0.005,0,0.005],"labelExpr":"replace(format(datum.value,'.3~f'),'0.','.')","tickSize":2.5,"labelPadding":1,"labelOverlap":false,"labelFontSize":5.3,"labelColor":"#333333","title":null}}}},
  {"data":{"values":[{}]},"mark":{"type":"rule","color":"#ff9c9c","strokeWidth":1.2},
   "encoding":{"y":{"datum":0,"type":"quantitative","scale":{"domain":[-0.014286,0.017063],"nice":false,"zero":false},
     "axis":{"orient":"right","values":[-0.01,-0.005,0,0.005],"labelExpr":"replace(format(datum.value,'.3~f'),'0.','.')","tickSize":2.5,"labelPadding":1,"labelOverlap":false,"labelFontSize":5.3,"labelColor":"#333333","title":null}}}},
  {"data":{"values":[{}]},"mark":{"type":"text","align":"left","baseline":"middle","fontSize":4.5,"color":"#e02020","dx":5.3},
   "encoding":{"x":{"datum":1549713600000,"type":"temporal","scale":{"type":"utc","domain":[1549713600000,1572602400000]},"axis":null},"y":{"datum":0.0156,"type":"quantitative","scale":{"domain":[-0.014286,0.017063],"nice":false,"zero":false},
     "axis":{"orient":"right","values":[-0.01,-0.005,0,0.005],"labelExpr":"replace(format(datum.value,'.3~f'),'0.','.')","tickSize":2.5,"labelPadding":1,"labelOverlap":false,"labelFontSize":5.3,"labelColor":"#333333","title":null}},"text":{"value":"MACD, GBP=, Bid(Last), 12, 26, 9, 偏差, 2019/10/18, .0120, "}}},
  {"data":{"values":[{}]},"mark":{"type":"text","align":"left","baseline":"middle","fontSize":4.5,"color":"#5cc000","dx":126.5},
   "encoding":{"x":{"datum":1549713600000,"type":"temporal","scale":{"type":"utc","domain":[1549713600000,1572602400000]},"axis":null},"y":{"datum":0.0156,"type":"quantitative","scale":{"domain":[-0.014286,0.017063],"nice":false,"zero":false},
     "axis":{"orient":"right","values":[-0.01,-0.005,0,0.005],"labelExpr":"replace(format(datum.value,'.3~f'),'0.','.')","tickSize":2.5,"labelPadding":1,"labelOverlap":false,"labelFontSize":5.3,"labelColor":"#333333","title":null}},"text":{"value":".0069"}}},
  {"data":{"name":"mb"},"mark":{"type":"point","shape":"M-1,-0.128H1V0.128H-1Z","size":310,"filled":true,"opacity":1,"strokeWidth":0},
   "encoding":{"x":{"datum":1573009200000,"type":"temporal","scale":{"type":"utc","domain":[1549713600000,1572602400000]},"axis":null},"y":{"field":"v","type":"quantitative","scale":{"domain":[-0.014286,0.017063],"nice":false,"zero":false},
     "axis":{"orient":"right","values":[-0.01,-0.005,0,0.005],"labelExpr":"replace(format(datum.value,'.3~f'),'0.','.')","tickSize":2.5,"labelPadding":1,"labelOverlap":false,"labelFontSize":5.3,"labelColor":"#333333","title":null}},
    "color":{"condition":{"test":"datum.k == 'r'","value":"#ff0000"},"value":"#80ff00"}}},
  {"data":{"name":"mb"},"mark":{"type":"text","align":"center","baseline":"middle","fontSize":4.6,"color":"#222222"},
   "encoding":{"x":{"datum":1573009200000,"type":"temporal","scale":{"type":"utc","domain":[1549713600000,1572602400000]},"axis":null},"y":{"field":"v","type":"quantitative","scale":{"domain":[-0.014286,0.017063],"nice":false,"zero":false},
     "axis":{"orient":"right","values":[-0.01,-0.005,0,0.005],"labelExpr":"replace(format(datum.value,'.3~f'),'0.','.')","tickSize":2.5,"labelPadding":1,"labelOverlap":false,"labelFontSize":5.3,"labelColor":"#333333","title":null}},"text":{"field":"t"}}},
  {"data":{"values":[{}]},"mark":{"type":"text","align":"center","baseline":"middle","fontSize":4.6,"color":"#333333","dx":8},
   "encoding":{"x":{"datum":1572602400000,"type":"temporal","scale":{"type":"utc","domain":[1549713600000,1572602400000]},"axis":null},"y":{"datum":0.0106,"type":"quantitative","scale":{"domain":[-0.014286,0.017063],"nice":false,"zero":false},
     "axis":{"orient":"right","values":[-0.01,-0.005,0,0.005],"labelExpr":"replace(format(datum.value,'.3~f'),'0.','.')","tickSize":2.5,"labelPadding":1,"labelOverlap":false,"labelFontSize":5.3,"labelColor":"#333333","title":null}},"text":{"value":"USD"}}},
  {"data":{"values":[{}]},"mark":{"type":"point","shape":"M-1,-0.45H1V0.45H-1Z","size":177,"filled":true,"opacity":1,"color":"#dddddd","stroke":"#888888","strokeWidth":0.5},
   "encoding":{"x":{"datum":1572955200000,"type":"temporal","scale":{"type":"utc","domain":[1549713600000,1572602400000]},"axis":null},"y":{"datum":-0.01337,"type":"quantitative","scale":{"domain":[-0.014286,0.017063],"nice":false,"zero":false},
     "axis":{"orient":"right","values":[-0.01,-0.005,0,0.005],"labelExpr":"replace(format(datum.value,'.3~f'),'0.','.')","tickSize":2.5,"labelPadding":1,"labelOverlap":false,"labelFontSize":5.3,"labelColor":"#333333","title":null}}}},
  {"data":{"values":[{}]},"mark":{"type":"text","align":"center","baseline":"middle","fontSize":5,"fontWeight":"bold","color":"#222222","font":"Noto Sans CJK SC"},
   "encoding":{"x":{"datum":1572955200000,"type":"temporal","scale":{"type":"utc","domain":[1549713600000,1572602400000]},"axis":null},"y":{"datum":-0.01337,"type":"quantitative","scale":{"domain":[-0.014286,0.017063],"nice":false,"zero":false},
     "axis":{"orient":"right","values":[-0.01,-0.005,0,0.005],"labelExpr":"replace(format(datum.value,'.3~f'),'0.','.')","tickSize":2.5,"labelPadding":1,"labelOverlap":false,"labelFontSize":5.3,"labelColor":"#333333","title":null}},"text":{"value":"四值"}}}
 ]
}
]
}
